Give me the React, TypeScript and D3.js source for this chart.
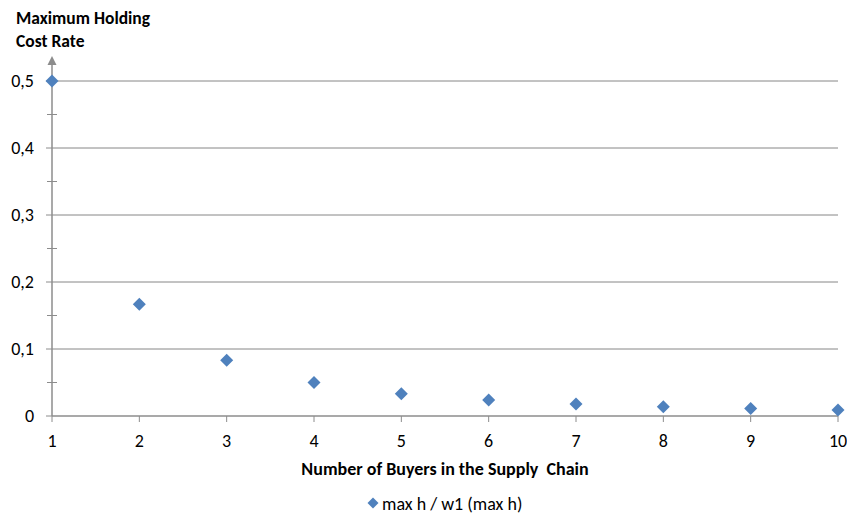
import React from "react";
import * as d3 from "d3";

const buyers = [1, 2, 3, 4, 5, 6, 7, 8, 9, 10];
const maxRate = [0.5, 0.1667, 0.0833, 0.05, 0.0333, 0.0238, 0.0179, 0.0139, 0.0111, 0.0091];
const yTicks = [0, 0.1, 0.2, 0.3, 0.4, 0.5];
const yMinorTicks = [0.05, 0.15, 0.25, 0.35, 0.45];
const yTickLabels = ["0", "0,1", "0,2", "0,3", "0,4", "0,5"];
const titleLines = ["Maximum Holding", "Cost Rate"];
const xTitle = "Number of Buyers in the Supply  Chain";
const legendLabel = "max h / w1 (max h)";

const W = 847;
const H = 515;
const FONT = "Carlito, Calibri, Lato, 'Open Sans', sans-serif";

export default function App() {
  const x = d3.scaleLinear().domain([1, 10]).range([52, 838]);
  const y = d3.scaleLinear().domain([0, 0.5]).range([416, 81]);
  const diamond = (cx: number, cy: number, r: number) =>
    `M${cx},${cy - r}L${cx + r},${cy}L${cx},${cy + r}L${cx - r},${cy}Z`;
  return (
    <svg width={W} height={H} style={{ position: "absolute", left: 0, top: 0, background: "#fff" }} fontFamily={FONT}>
      {titleLines.map((t, i) => (
        <text key={t} x={16} y={24 + i * 23} fontSize={17.5} fontWeight="bold" fill="#000">{t}</text>
      ))}
      {yTicks.filter((v) => v > 0).map((v) => (
        <line key={v} x1={x(1)} x2={x(10)} y1={y(v)} y2={y(v)} stroke="#868686" strokeWidth={1} />
      ))}
      {/* y axis */}
      <line x1={x(1)} x2={x(1)} y1={y(0)} y2={63} stroke="#8c8c8c" strokeWidth={1.5} />
      <path d={`M${x(1) - 4.5},65L${x(1)},56L${x(1) + 4.5},65Z`} fill="#8c8c8c" />
      {yTicks.map((v) => (
        <line key={v} x1={x(1) - 6} x2={x(1)} y1={y(v)} y2={y(v)} stroke="#8c8c8c" strokeWidth={1} />
      ))}
      {yMinorTicks.map((v) => (
        <line key={v} x1={x(1) - 5} x2={x(1) + 5} y1={y(v)} y2={y(v)} stroke="#8c8c8c" strokeWidth={1} />
      ))}
      {yTicks.map((v, i) => (
        <text key={v} x={34} y={y(v) + 6} fontSize={18} textAnchor="end" fill="#000">{yTickLabels[i]}</text>
      ))}
      {/* x axis */}
      <line x1={x(1)} x2={x(10)} y1={y(0)} y2={y(0)} stroke="#8c8c8c" strokeWidth={1.5} />
      {buyers.map((b) => (
        <line key={b} x1={x(b)} x2={x(b)} y1={y(0)} y2={y(0) + 6} stroke="#8c8c8c" strokeWidth={1} />
      ))}
      {buyers.map((b) => (
        <text key={b} x={x(b)} y={447} fontSize={18} textAnchor="middle" fill="#000">{b}</text>
      ))}
      <text x={445} y={475} fontSize={18} fontWeight="bold" textAnchor="middle" fill="#000" style={{ whiteSpace: "pre" }}>{xTitle}</text>
      {buyers.map((b, i) => (
        <path key={b} d={diamond(x(b), y(maxRate[i]), 6.5)} fill="#4f81bd" />
      ))}
      <path d={diamond(373, 503, 5.5)} fill="#4f81bd" />
      <text x={382} y={510} fontSize={18} fill="#000">{legendLabel}</text>
    </svg>
  );
}
